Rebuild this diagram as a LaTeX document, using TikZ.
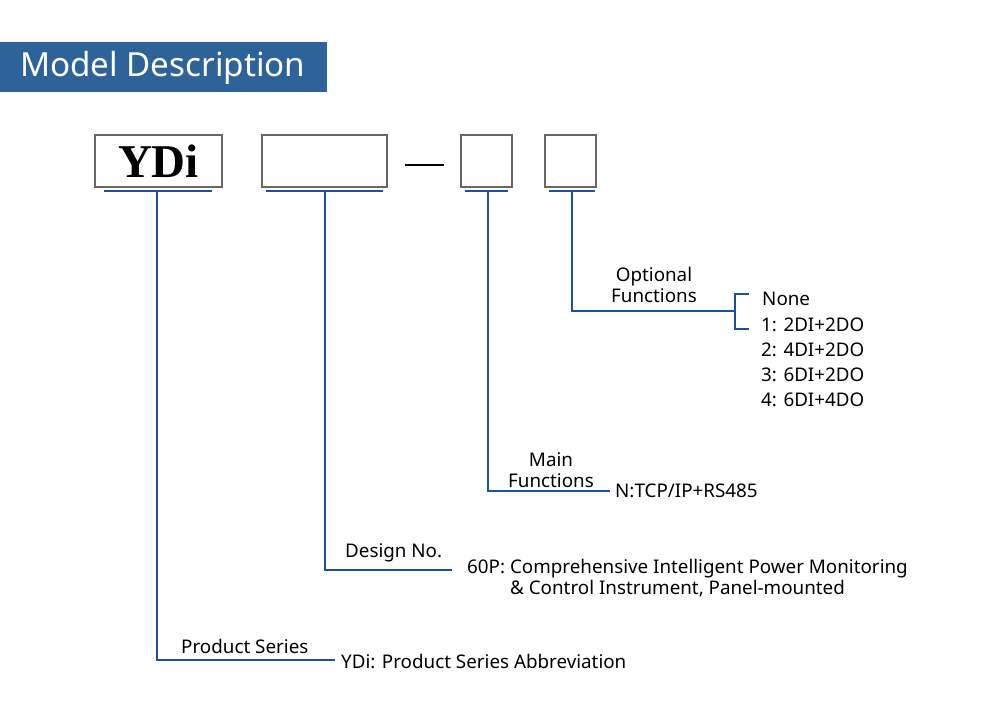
\documentclass[tikz,border=0pt]{standalone}
\usepackage{fontspec}
\setmainfont{Noto Sans}
\newfontfamily\ydifont{Liberation Serif}
\definecolor{hdrblue}{HTML}{2E6399}
\definecolor{lnblue}{HTML}{1F4FA0}
\definecolor{boxgray}{HTML}{6B6661}
\begin{document}
\begin{tikzpicture}[x=1pt,y=-1pt,
  codebox/.style={draw=boxgray,line width=1.3pt,fill=white},
  link/.style={draw=lnblue,line width=2pt},
  lbl/.style={font=\fontsize{18.8}{21}\selectfont,inner sep=0pt,text=black},
]
\useasboundingbox (0,0) rectangle (1000,712);
\fill[white] (0,0) rectangle (1000,712);
% header
\fill[hdrblue] (0,42) rectangle (327,92);
\node[anchor=west,text=white,inner sep=0pt,font=\fontsize{33.2}{38}\selectfont] (title) at (20,68) {Model Description};
% boxes
\draw[codebox] (95,135) rectangle (222,187);
\node[font=\ydifont\bfseries\fontsize{47}{52}\selectfont,inner sep=0pt] (ydi) at (158.5,161) {YDi};
\draw[codebox] (262,135) rectangle (387,187);
\draw[black,line width=2pt] (405,165) -- (444,165);
\draw[codebox] (461,135) rectangle (512,187);
\draw[codebox] (545,135) rectangle (596,187);
% underlines
\draw[link] (104,191) -- (212,191);
\draw[link] (266,191) -- (383,191);
\draw[link] (465,191) -- (508,191);
\draw[link] (549,191) -- (595,191);
% coordinates
\coordinate (s1) at (157,191);
\coordinate (s2) at (325,191);
\coordinate (s3) at (488,191);
\coordinate (s4) at (572,191);
\coordinate (e1) at (335,660);
\coordinate (e2) at (452,570);
\coordinate (e3) at (610,491);
\coordinate (e4) at (735,311);
\draw[link] (s1) |- (e1);
\draw[link] (s2) |- (e2);
\draw[link] (s3) |- (e3);
\draw[link] (s4) |- (e4);
% bracket
\draw[link] (749,294) -- (735,294) -- (735,329) -- (749,329);
% optional
\node[lbl,align=center] (opt) at (654,285) {Optional\\Functions};
\node[lbl,anchor=west] (o0) at (762,299) {None};
\node[lbl,anchor=west] (o1) at (761,325) {1: 2DI+2DO};
\node[lbl,anchor=west] (o2) at (761,350) {2: 4DI+2DO};
\node[lbl,anchor=west] (o3) at (761,375) {3: 6DI+2DO};
\node[lbl,anchor=west] (o4) at (761,400) {4: 6DI+4DO};
% main
\node[lbl,align=center] (mf) at (551,470) {Main\\Functions};
\node[lbl,anchor=west] (mfv) at (615,491) {N:TCP/IP+RS485};
% design
\node[lbl,anchor=west] (dn) at (345,553) {Design No.};
\node[lbl,anchor=west] (dn1) at (467,569) {60P: Comprehensive Intelligent Power Monitoring};
\node[lbl,anchor=west] (dn2) at (510,589) {\& Control Instrument, Panel-mounted};
% product
\node[lbl,anchor=west] (ps) at (181,646) {Product Series};
\node[lbl,anchor=west] (psv) at (341,661) {YDi: Product Series Abbreviation};
\end{tikzpicture}
\end{document}
